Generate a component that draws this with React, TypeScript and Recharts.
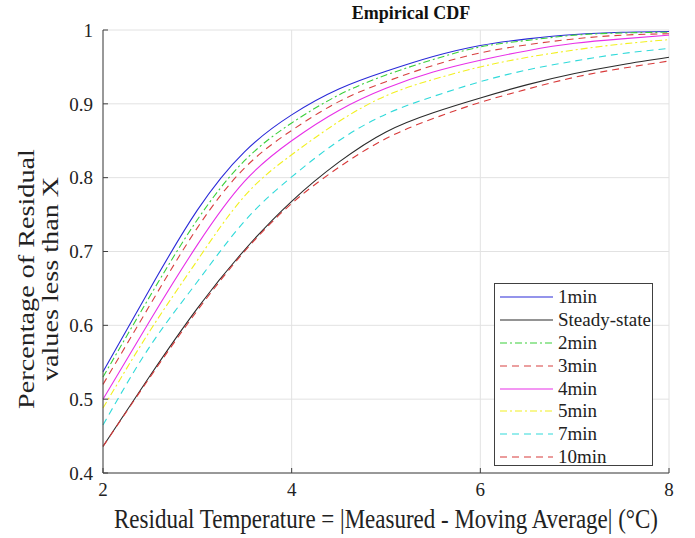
import { LineChart, Line, XAxis, YAxis, CartesianGrid } from "recharts";

const X_VALUES = [2, 2.5, 3, 3.5, 4, 4.5, 5, 5.5, 6, 6.5, 7, 7.5, 8];
const MIN1 = [0.537, 0.65, 0.756, 0.835, 0.885, 0.92, 0.944, 0.964, 0.979, 0.988, 0.994, 0.997, 0.998];
const STEADY = [0.436, 0.532, 0.623, 0.702, 0.768, 0.821, 0.862, 0.888, 0.908, 0.926, 0.941, 0.953, 0.963];
const MIN2 = [0.53, 0.64, 0.743, 0.823, 0.874, 0.912, 0.939, 0.96, 0.977, 0.986, 0.993, 0.996, 0.997];
const MIN3 = [0.52, 0.628, 0.732, 0.813, 0.864, 0.903, 0.93, 0.952, 0.969, 0.98, 0.988, 0.993, 0.995];
const MIN4 = [0.5, 0.607, 0.709, 0.795, 0.85, 0.891, 0.921, 0.943, 0.959, 0.972, 0.982, 0.988, 0.993];
const MIN5 = [0.488, 0.593, 0.688, 0.775, 0.831, 0.876, 0.911, 0.933, 0.95, 0.963, 0.973, 0.981, 0.987];
const MIN7 = [0.465, 0.572, 0.659, 0.741, 0.801, 0.85, 0.886, 0.91, 0.93, 0.946, 0.958, 0.968, 0.975];
const MIN10 = [0.436, 0.53, 0.62, 0.7, 0.765, 0.814, 0.853, 0.88, 0.902, 0.92, 0.936, 0.948, 0.958];

const X_TICKS = [2, 4, 6, 8];
const Y_TICKS = [0.4, 0.5, 0.6, 0.7, 0.8, 0.9, 1];

const SERIES = [
  { key: "min1", name: "1min", values: MIN1, color: "#2a2ad8", dash: undefined },
  { key: "steady", name: "Steady-state", values: STEADY, color: "#2b2b2b", dash: undefined },
  { key: "min2", name: "2min", values: MIN2, color: "#3ad03a", dash: "7 3 2 3" },
  { key: "min3", name: "3min", values: MIN3, color: "#d84040", dash: "7 5" },
  { key: "min4", name: "4min", values: MIN4, color: "#e830e8", dash: undefined },
  { key: "min5", name: "5min", values: MIN5, color: "#f2f020", dash: "7 3 2 3" },
  { key: "min7", name: "7min", values: MIN7, color: "#30dada", dash: "7 5" },
  { key: "min10", name: "10min", values: MIN10, color: "#d83a3a", dash: "7 5" },
];

const data = X_VALUES.map((x, i) => {
  const row: Record<string, number> = { x };
  SERIES.forEach((s) => (row[s.key] = s.values[i]));
  return row;
});

const FONT = "'Liberation Serif', 'Times New Roman', serif";
const AXIS = "#404040";

function LegendBox() {
  return (
    <div
      style={{
        position: "absolute",
        left: 494,
        top: 283,
        border: `1px solid ${AXIS}`,
        background: "#fff",
        width: 159,
        height: 183,
        boxSizing: "border-box",
        paddingTop: 2,
      }}
    >
      {SERIES.map((s) => (
        <div key={s.key} style={{ display: "flex", alignItems: "center", height: 22.8 }}>
          <svg width={58} height={10} style={{ marginLeft: 5, flexShrink: 0 }}>
            <line x1={0} y1={5} x2={53} y2={5} stroke={s.color} strokeWidth={1.2} strokeDasharray={s.dash} />
          </svg>
          <span style={{ fontFamily: FONT, fontSize: 19, color: "#222", lineHeight: "20px", whiteSpace: "nowrap" }}>
            {s.name}
          </span>
        </div>
      ))}
    </div>
  );
}

export default function App() {
  return (
    <div style={{ position: "absolute", left: 0, top: 0, width: 695, height: 538, background: "#fff" }}>
      <LineChart width={695} height={538} data={data} margin={{ top: 30, right: 26, bottom: 0, left: 0 }}>
        <text x={411} y={19} textAnchor="middle" fontFamily={FONT} fontWeight="bold" fontSize={18} fill="#111">
          Empirical CDF
        </text>
        <CartesianGrid stroke="#e2e2e2" strokeWidth={1} />
        <XAxis
          dataKey="x"
          type="number"
          domain={[2, 8]}
          ticks={X_TICKS}
          height={65}
          stroke={AXIS}
          tickSize={-5}
          tickMargin={15}
          tick={{ fontFamily: FONT, fontSize: 19, fill: "#222" }}
        />
        <XAxis xAxisId="top" dataKey="x" type="number" domain={[2, 8]} ticks={X_TICKS} orientation="top" height={0} stroke={AXIS} tickSize={-5} tick={false} />
        <YAxis
          type="number"
          domain={[0.4, 1]}
          ticks={Y_TICKS}
          width={103}
          stroke={AXIS}
          tickSize={-5}
          tickMargin={15}
          tickFormatter={(v: number) => String(v)}
          tick={{ fontFamily: FONT, fontSize: 19, fill: "#222" }}
        />
        <YAxis yAxisId="right" type="number" domain={[0.4, 1]} ticks={Y_TICKS} orientation="right" width={0} stroke={AXIS} tickSize={-5} tick={false} />
        {SERIES.map((s) => (
          <Line
            key={s.key}
            dataKey={s.key}
            name={s.name}
            type="natural"
            stroke={s.color}
            strokeWidth={1.1}
            strokeDasharray={s.dash}
            dot={false}
            isAnimationActive={false}
          />
        ))}
        <text transform="translate(386,528) scale(1,1.15)" textAnchor="middle" fontFamily={FONT} fontSize={23} fill="#222">
          Residual Temperature = |Measured - Moving Average| (°C)
        </text>
        <text transform="translate(0,279) scale(1,1.2) rotate(-90)" textAnchor="middle" fontFamily={FONT} fontSize={23.5} fill="#222">
          <tspan x={0} y={34}>Percentage of Residual</tspan>
          <tspan x={0} y={58}>values less than X</tspan>
        </text>
      </LineChart>
      <LegendBox />
    </div>
  );
}
